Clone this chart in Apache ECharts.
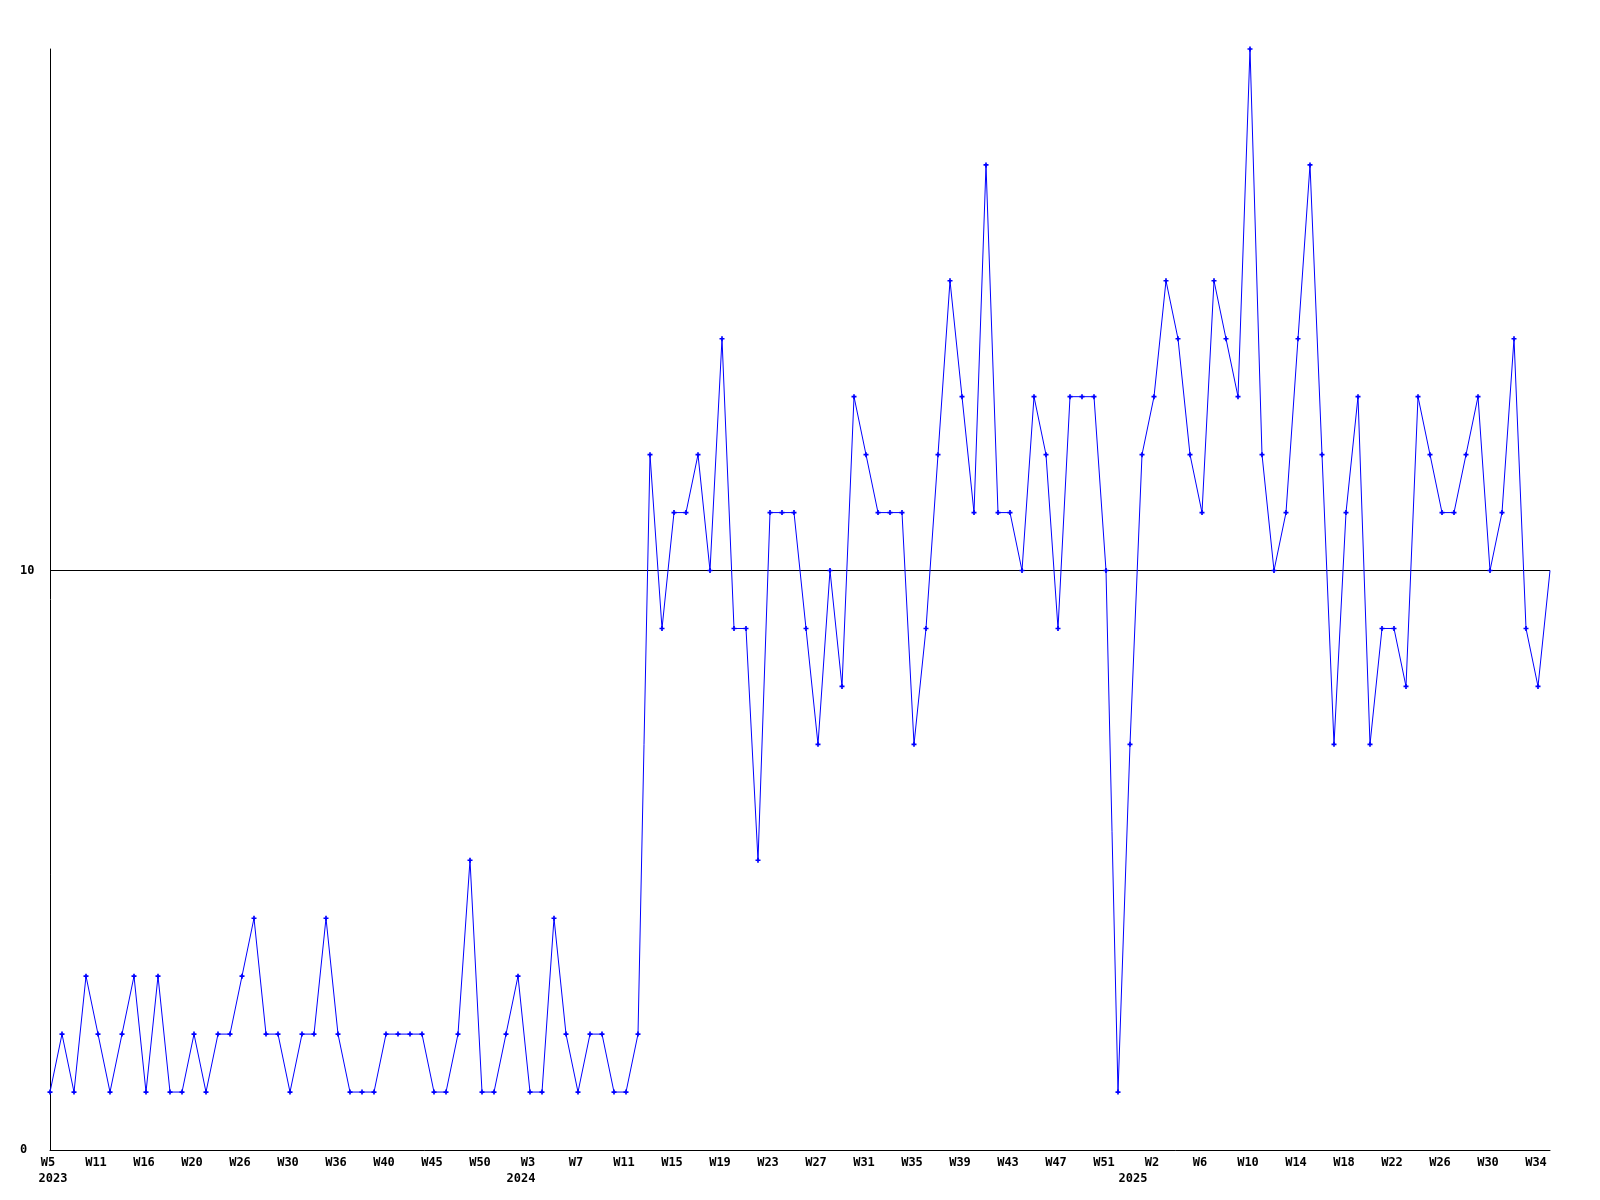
<!DOCTYPE html>
<html>
<head>
<meta charset="utf-8">
<script src="https://cdn.jsdelivr.net/npm/echarts@6/dist/echarts.min.js"></script>
<style>
html,body{margin:0;padding:0;background:#fff;}
#chart{width:1600px;height:1200px;}
</style>
</head>
<body>
<div id="chart"></div>
<script>
// Week categories (one per data point)
var weeks = [
  'W5','W6','W8','W9','W11','W12','W13','W15','W16','W17','W18','W19','W20','W22','W23','W25',
  'W26','W27','W28','W29','W30','W32','W34','W35','W36','W37','W38','W39','W40','W42','W43','W44',
  'W45','W46','W48','W49','W50','W51','W52',
  'W1','W3','W4','W5','W6','W7','W8','W9','W10','W11','W12','W13','W14','W15','W16','W17','W18',
  'W19','W20','W21','W22','W23','W24','W25','W26','W27','W28','W29','W30','W31','W32','W33','W34',
  'W35','W36','W37','W38','W39','W40','W41','W42','W43','W44','W45','W46','W47','W48','W49','W50',
  'W51','W52',
  'W0','W1','W2','W3','W4','W5','W6','W7','W8','W9','W10','W11','W12','W13','W14','W15','W16',
  'W17','W18','W19','W20','W21','W22','W23','W24','W25','W26','W27','W28','W29','W30','W31','W32',
  'W33','W34','W35'
];
// Year of each category
var yearCounts = { '2023': 39, '2024': 51, '2025': 36 };
var years = [];
Object.keys(yearCounts).forEach(function (y) { for (var i = 0; i < yearCounts[y]; i++) years.push(y); });

// Series values
var values = [
  1,2,1,3,2,1,2,3,1,3,1,1,2,1,2,2,3,4,2,2,1,2,2,4,2,1,1,1,2,2,2,2,1,1,2,5,1,1,2,3,
  1,1,4,2,1,2,2,1,1,2,12,9,11,11,12,10,14,9,9,5,11,11,11,9,7,10,8,13,12,11,11,11,7,9,12,
  15,13,11,17,11,11,10,13,12,9,13,13,13,10,1,7,12,13,15,14,12,11,15,14,13,19,12,10,11,14,
  17,12,7,11,13,7,9,9,8,13,12,11,11,12,13,10,11,14,9,8,10
];

// Y-axis tick labels shown
var yTickLabels = [0, 10];

var font = { fontFamily: 'DejaVu Sans Mono', fontWeight: 'bold', fontSize: 12, color: '#000' };

var seriesData = values.map(function (v, i) {
  return i === values.length - 1 ? { value: v, symbol: 'none' } : v;
});

var chart = echarts.init(document.getElementById('chart'), null, { renderer: 'canvas' });
chart.setOption({
  animation: false,
  backgroundColor: '#ffffff',
  grid: { left: 50, right: 50, top: 49, bottom: 50, containLabel: false },
  xAxis: [
    {
      type: 'category',
      data: weeks,
      boundaryGap: false,
      axisLine: { show: true, lineStyle: { color: '#000', width: 1 } },
      axisTick: { show: false },
      splitLine: { show: false },
      axisLabel: Object.assign({
        interval: 3,
        margin: 7,
        padding: [0, 4, 0, 0],
        hideOverlap: false
      }, font)
    },
    {
      type: 'category',
      data: weeks,
      position: 'bottom',
      offset: 15.5,
      boundaryGap: false,
      axisLine: { show: false },
      axisTick: { show: false },
      splitLine: { show: false },
      axisLabel: Object.assign({
        margin: 7,
        padding: [0, 0, 0, 6],
        hideOverlap: false,
        interval: function (index) { return index === 0 || years[index] !== years[index - 1]; },
        formatter: function (value, index) { return years[index]; }
      }, font)
    }
  ],
  yAxis: {
    type: 'value',
    min: 0,
    max: 19,
    interval: 10,
    axisLine: { show: true, lineStyle: { color: '#000', width: 1 } },
    axisTick: { show: false },
    splitLine: { show: true, lineStyle: { color: ['rgba(0,0,0,0)', '#000000'], width: 1 } },
    axisLabel: Object.assign({
      align: 'left',
      margin: 30,
      padding: [4, 0, 0, 0],
      showMaxLabel: false,
      formatter: function (v) { return yTickLabels.indexOf(v) >= 0 ? String(v) : ''; }
    }, font)
  },
  series: [{
    type: 'line',
    data: seriesData,
    xAxisIndex: 0,
    symbol: 'path://M1,0H2V1H3V2H2V3H1V2H0V1H1Z',
    symbolSize: 5,
    showAllSymbol: true,
    itemStyle: { color: '#0000ff' },
    lineStyle: { color: '#0000ff', width: 1 },
    emphasis: { disabled: true }
  }]
});
</script>
</body>
</html>
